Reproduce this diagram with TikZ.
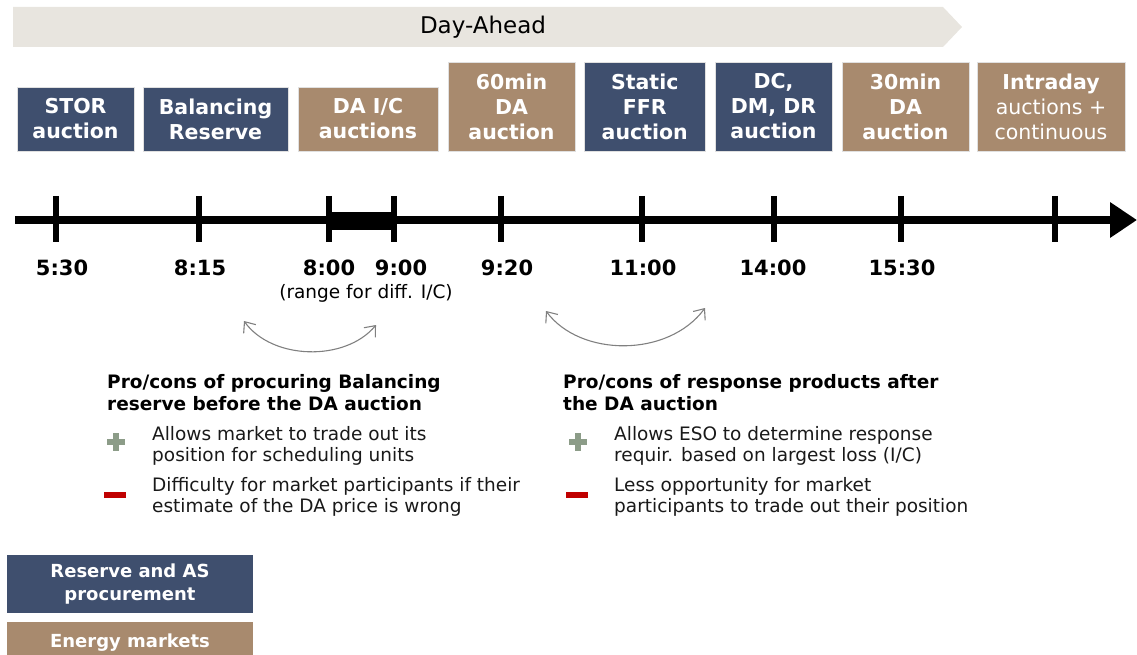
\documentclass[tikz,border=0pt]{standalone}
\usepackage{fontspec}
\setmainfont{DejaVu Sans}
\usetikzlibrary{arrows.meta}
\definecolor{resblue}{HTML}{3F4F6E}
\definecolor{enbrown}{HTML}{A88A6E}
\definecolor{bannerc}{HTML}{E8E5DF}
\definecolor{plusgreen}{HTML}{8C9C88}
\definecolor{minusred}{HTML}{C00000}
\definecolor{arcgray}{HTML}{808080}
\tikzset{
  mbox/.style={inner sep=0pt, align=center, text=white, draw=black!12, line width=0.8pt,
    font=\bfseries\fontsize{20.5}{25}\selectfont},
  resbox/.style={mbox, fill=resblue},
  enbox/.style={mbox, fill=enbrown},
  tick/.style={line width=6pt},
  tlabel/.style={anchor=base, inner sep=0pt, font=\bfseries\fontsize{21}{24}\selectfont},
  heading/.style={anchor=base west, inner sep=0pt, align=left, font=\bfseries\fontsize{18.5}{22}\selectfont},
  item/.style={anchor=base west, inner sep=0pt, align=left, font=\fontsize{18.5}{21}\selectfont, text=black!90},
  arc/.style={draw=arcgray, line width=1.1pt, {Straight Barb[length=9pt,width=15pt]}-{Straight Barb[length=9pt,width=15pt]}},
  legbox/.style={inner sep=0pt, align=center, text=white, font=\bfseries\fontsize{18}{23}\selectfont}
}
\begin{document}
\begin{tikzpicture}[x=1pt,y=-1pt]
\useasboundingbox (0,0) rectangle (1137,655);
% Day-Ahead banner
\fill[bannerc] (13,7) -- (943,7) -- (962,27) -- (943,47) -- (13,47) -- cycle;
\node[font=\fontsize{23}{26}\selectfont] (dayahead) at (483,27) {Day-Ahead};
% boxes
\node[resbox, minimum width=117, minimum height=64] (stor) at (75.5,119) {STOR\\auction};
\node[resbox, minimum width=145, minimum height=64] (bal) at (215.5,119) {Balancing\\Reserve};
\node[enbox, minimum width=140, minimum height=64] (daic) at (368,119) {DA I/C\\auctions};
\node[enbox, minimum width=127, minimum height=89] (sixty) at (511.5,106.5) {60min\\DA\\auction};
\node[resbox, minimum width=120.5, minimum height=89] (ffr) at (644.75,106.5) {Static\\FFR\\auction};
\node[resbox, minimum width=117, minimum height=89] (dc) at (773.5,106.5) {DC,\\DM, DR\\auction};
\node[enbox, minimum width=127, minimum height=89] (thirty) at (905.5,106.5) {30min\\DA\\auction};
\node[enbox, minimum width=148, minimum height=89] (intra) at (1051,106.5) {Intraday\\\mdseries auctions +\\\mdseries continuous};
% timeline
\coordinate (tlstart) at (15,220);
\coordinate (tlend) at (1137,220);
\draw[line width=8pt, -{Triangle[length=27pt,width=34pt]}] (tlstart) -- (tlend);
\fill (329,212) rectangle (394,230);
\foreach \x/\n in {56/t1,199/t2,329/t3,394/t4,501/t5,642/t6,774/t7,901/t8,1055/t9}{
  \coordinate (\n top) at (\x,196);
  \coordinate (\n bot) at (\x,242);
  \draw[tick] (\n top) -- (\n bot);
}
\node[tlabel] (l1) at (62,275) {5:30};
\node[tlabel] (l2) at (200,275) {8:15};
\node[tlabel] (l3) at (329,275) {8:00};
\node[tlabel] (l4) at (401,275) {9:00};
\node[tlabel] (l5) at (507,275) {9:20};
\node[tlabel] (l6) at (643,275) {11:00};
\node[tlabel] (l7) at (773,275) {14:00};
\node[tlabel] (l8) at (902,275) {15:30};
\node[anchor=base, inner sep=0pt, font=\fontsize{18.5}{22}\selectfont] (range) at (366,298) {(range for diff. I/C)};
% curved arrows
\coordinate (a1s) at (244,321);
\coordinate (a1e) at (376,325);
\draw[arc] (a1s) .. controls (272,360) and (345,362) .. (a1e);
\coordinate (a2s) at (546,311);
\coordinate (a2e) at (705,308);
\draw[arc] (a2s) .. controls (580,357) and (668,358) .. (a2e);
% left pro/cons (base anchor = last line)
\node[heading] (lhead) at (107,410) {Pro/cons of procuring Balancing\\reserve before the DA auction};
\fill[plusgreen] (107,439) rectangle (125,445);
\fill[plusgreen] (113,433) rectangle (119,451);
\node[item] (lpro) at (152,461) {Allows market to trade out its\\position for scheduling units};
\fill[minusred] (104,492) rectangle (126,497.5);
\node[item] (lcon) at (152,512) {Difficulty for market participants if their\\estimate of the DA price is wrong};
% right pro/cons
\node[heading] (rhead) at (563,410) {Pro/cons of response products after\\the DA auction};
\fill[plusgreen] (569,439) rectangle (587,445);
\fill[plusgreen] (575,433) rectangle (581,451);
\node[item] (rpro) at (614,461) {Allows ESO to determine response\\requir. based on largest loss (I/C)};
\fill[minusred] (566,492) rectangle (588,497.5);
\node[item] (rcon) at (614,512) {Less opportunity for market\\participants to trade out their position};
% legend
\fill[resblue] (7,555) rectangle (253,613);
\node[legbox] (legres) at (130,584.5) {Reserve and AS\\procurement};
\fill[enbrown] (7,622) rectangle (253,655);
\node[legbox, anchor=base] (legen) at (130,647) {Energy markets};
\end{tikzpicture}
\end{document}
